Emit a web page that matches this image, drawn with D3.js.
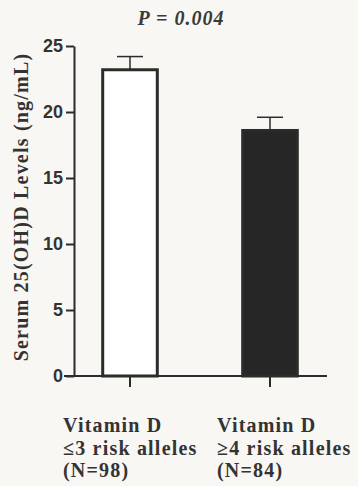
<!DOCTYPE html>
<html>
<head>
<meta charset="utf-8">
<script src="https://cdn.jsdelivr.net/npm/d3@7"></script>
<style>
  body { margin: 0; background: #f8f7f3; }
  svg { display: block; }
</style>
</head>
<body>
<script>
// data
var categories = ["le3", "ge4"];
var labels = [["Vitamin D", "\u22643 risk alleles", "(N=98)"], ["Vitamin D", "\u22654 risk alleles", "(N=84)"]];
var means = [23.2, 18.6];
var errors = [1.0, 1.0];
var fills = ["#ffffff", "#262626"];
var yTicks = [0, 5, 10, 15, 20, 25];

var W = 358, H = 486;
var ink = "#2b2b2b";

var svg = d3.select("body").append("svg").attr("width", W).attr("height", H);

var x = d3.scaleBand().domain(categories).range([60, 340]).padding(0);
var y = d3.scaleLinear().domain([0, 25]).range([376, 46]);
var barW = x.bandwidth() * 0.39;

// title
svg.append("text")
    .attr("x", 181).attr("y", 25)
    .attr("text-anchor", "middle")
    .style("font-family", "Liberation Serif")
    .style("font-weight", "bold").style("font-style", "italic")
    .style("font-size", "20px").style("letter-spacing", "1px").style("fill", "#3a3a3a")
    .text("P = 0.004");

// bars
svg.selectAll("rect.bar").data(means).enter().append("rect")
    .attr("class", "bar")
    .attr("x", (d, i) => x(categories[i]) + x.bandwidth() / 2 - barW / 2)
    .attr("y", (d) => y(d))
    .attr("width", barW)
    .attr("height", (d) => y(0) - y(d))
    .style("fill", (d, i) => fills[i])
    .style("stroke", ink).style("stroke-width", 3);

// error bars
svg.selectAll("line.err").data(means).enter().append("line")
    .attr("class", "err")
    .attr("x1", (d, i) => x(categories[i]) + x.bandwidth() / 2)
    .attr("x2", (d, i) => x(categories[i]) + x.bandwidth() / 2)
    .attr("y1", (d) => y(d))
    .attr("y2", (d, i) => y(d + errors[i]))
    .style("stroke", ink).style("stroke-width", 1.5);

svg.selectAll("line.cap").data(means).enter().append("line")
    .attr("class", "cap")
    .attr("x1", (d, i) => x(categories[i]) + x.bandwidth() / 2 - 13)
    .attr("x2", (d, i) => x(categories[i]) + x.bandwidth() / 2 + 13)
    .attr("y1", (d, i) => y(d + errors[i]))
    .attr("y2", (d, i) => y(d + errors[i]))
    .style("stroke", ink).style("stroke-width", 1.5);

// y axis
var yAxis = svg.append("g")
    .attr("transform", "translate(74,0)")
    .call(d3.axisLeft(y).tickValues(yTicks).tickSize(8).tickPadding(3).tickSizeOuter(0));
yAxis.select(".domain").style("stroke", ink).style("stroke-width", 2);
yAxis.selectAll(".tick line").style("stroke", ink).style("stroke-width", 2);
yAxis.selectAll(".tick text")
    .style("font-family", "Liberation Sans").style("font-weight", "bold")
    .style("font-size", "18px").style("fill", "#333");

// x axis
svg.append("line")
    .attr("x1", 64).attr("x2", 327)
    .attr("y1", y(0)).attr("y2", y(0))
    .style("stroke", ink).style("stroke-width", 2);
svg.selectAll("line.xtick").data(categories).enter().append("line")
    .attr("class", "xtick")
    .attr("x1", (d) => x(d) + x.bandwidth() / 2)
    .attr("x2", (d) => x(d) + x.bandwidth() / 2)
    .attr("y1", y(0)).attr("y2", y(0) + 11)
    .style("stroke", ink).style("stroke-width", 2);

// y title
svg.append("text")
    .attr("transform", "translate(28,207) rotate(-90)")
    .attr("text-anchor", "middle")
    .style("font-family", "Liberation Serif").style("font-weight", "bold")
    .style("font-size", "20px").style("letter-spacing", "1.2px").style("fill", "#333")
    .text("Serum 25(OH)D Levels (ng/mL)");

// category labels
var labelX = [63, 217];
labels.forEach(function (lines, i) {
    var t = svg.append("text")
        .attr("x", labelX[i]).attr("y", 432)
        .style("font-family", "Liberation Serif").style("font-weight", "bold")
        .style("font-size", "20px").style("letter-spacing", "1.2px").style("fill", "#333");
    lines.forEach(function (s, j) {
        t.append("tspan").attr("x", labelX[i]).attr("dy", j === 0 ? 0 : 22.5).text(s);
    });
});
</script>
</body>
</html>
